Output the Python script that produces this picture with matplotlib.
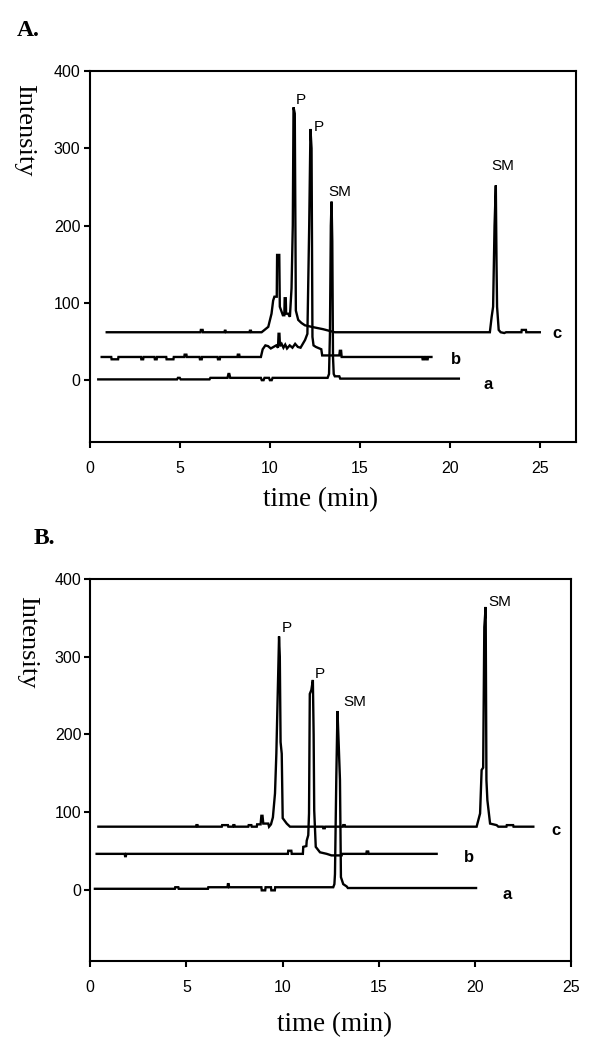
import matplotlib
matplotlib.use("Agg")
import matplotlib.pyplot as plt

# ---------------- data (time in min, intensity) ----------------
# Panel A
trace_A_a = [(0.48, 1), (4.85, 1), (4.9, 3), (5.0, 3), (5.05, 1), (6.65, 1), (6.7, 3),
             (7.65, 3), (7.7, 8), (7.75, 8), (7.8, 3), (9.5, 3), (9.55, 0), (9.65, 0),
             (9.7, 3), (9.95, 3), (10.0, 0), (10.1, 0), (10.15, 3), (13.2, 3), (13.28, 8),
             (13.33, 60), (13.38, 200), (13.42, 231), (13.46, 180), (13.5, 30), (13.54, 8),
             (13.6, 5), (13.85, 5), (13.9, 2), (20.48, 2)]
trace_A_b = [(0.67, 30), (1.2, 30), (1.22, 27), (1.58, 27), (1.6, 30), (2.85, 30), (2.87, 27),
             (2.97, 27), (2.99, 30), (3.6, 30), (3.62, 27), (3.72, 27), (3.74, 30), (4.25, 30),
             (4.27, 27), (4.65, 27), (4.67, 30), (5.25, 30), (5.27, 33), (5.37, 33), (5.39, 30),
             (6.1, 30), (6.12, 27), (6.22, 27), (6.24, 30), (7.1, 30), (7.12, 27), (7.22, 27),
             (7.24, 30), (8.2, 30), (8.22, 33), (8.3, 33), (8.32, 30), (9.5, 30), (9.6, 40),
             (9.75, 45), (9.9, 44), (10.05, 41), (10.2, 43), (10.35, 45), (10.45, 42), (10.48, 60),
             (10.53, 60), (10.56, 44), (10.65, 47), (10.75, 42), (10.85, 46), (10.95, 41),
             (11.1, 45), (11.25, 42), (11.4, 47), (11.55, 43), (11.7, 42), (11.85, 48), (11.95, 52),
             (12.08, 60), (12.18, 200), (12.25, 325), (12.31, 300), (12.36, 56), (12.42, 45),
             (12.55, 43), (12.85, 40), (12.9, 32), (13.85, 32), (13.88, 38), (13.95, 38),
             (13.98, 30), (18.45, 30), (18.47, 27), (18.55, 27), (18.57, 30), (18.65, 30),
             (18.67, 27), (18.75, 27), (18.77, 30), (18.96, 30)]
trace_A_c = [(0.95, 62), (6.15, 62), (6.17, 65), (6.27, 65), (6.29, 62), (7.48, 62), (7.5, 64),
             (7.54, 64), (7.56, 62), (8.87, 62), (8.89, 64), (8.95, 64), (8.97, 62), (9.54, 62),
             (9.7, 65), (9.91, 69), (10.09, 86), (10.18, 103), (10.25, 108), (10.38, 108),
             (10.4, 162), (10.52, 162), (10.55, 95), (10.72, 84), (10.8, 84), (10.82, 106),
             (10.88, 106), (10.9, 86), (11.01, 86), (11.11, 82), (11.2, 119), (11.27, 200),
             (11.31, 353), (11.38, 345), (11.44, 90), (11.57, 78), (11.75, 74), (11.94, 71),
             (12.31, 69), (12.94, 66), (13.6, 62), (22.2, 62), (22.3, 82), (22.38, 95),
             (22.46, 200), (22.53, 252), (22.57, 150), (22.6, 95), (22.69, 65), (22.8, 62),
             (23.0, 61), (23.1, 62), (23.95, 62), (23.97, 65), (24.2, 65), (24.22, 62), (24.97, 62)]

# Panel B
trace_B_a = [(0.24, 1), (4.4, 1), (4.42, 3), (4.58, 3), (4.6, 1), (6.12, 1), (6.14, 3), (7.14, 3),
             (7.16, 7), (7.2, 7), (7.22, 3), (8.9, 3), (8.92, -1), (9.1, -1), (9.12, 3), (9.4, 3),
             (9.42, -1), (9.6, -1), (9.62, 3), (12.64, 3), (12.7, 7), (12.73, 20), (12.8, 145),
             (12.86, 230), (12.92, 190), (12.99, 141), (13.04, 16), (13.16, 7), (13.34, 4),
             (13.4, 2), (20.07, 2)]
trace_B_b = [(0.33, 46), (1.79, 46), (1.81, 43), (1.85, 43), (1.87, 46), (10.28, 46), (10.3, 50),
             (10.46, 50), (10.48, 46), (11.06, 46), (11.08, 55), (11.24, 56), (11.26, 63),
             (11.34, 70), (11.38, 98), (11.42, 252), (11.5, 257), (11.58, 270), (11.62, 200),
             (11.65, 102), (11.73, 55), (11.95, 48), (12.3, 46), (12.55, 44), (13.08, 44),
             (13.1, 46), (14.36, 46), (14.38, 49), (14.46, 49), (14.48, 46), (18.02, 46)]
trace_B_c = [(0.42, 81), (5.5, 81), (5.52, 83), (5.58, 83), (5.6, 81), (6.84, 81), (6.86, 83),
             (7.16, 83), (7.18, 81), (7.42, 81), (7.44, 83), (7.5, 83), (7.52, 81), (8.22, 81),
             (8.24, 83), (8.38, 83), (8.4, 81), (8.66, 81), (8.68, 84), (8.86, 84), (8.9, 95),
             (8.96, 95), (9.0, 85), (9.26, 85), (9.3, 81), (9.4, 84), (9.5, 93), (9.61, 124),
             (9.68, 175), (9.76, 261), (9.82, 326), (9.86, 300), (9.9, 190), (9.96, 175),
             (10.01, 92), (10.22, 85), (10.39, 81), (12.1, 81), (12.12, 79), (12.2, 79),
             (12.22, 81), (13.14, 81), (13.16, 83), (13.24, 83), (13.26, 81), (20.1, 81),
             (20.28, 98), (20.36, 154), (20.44, 157), (20.5, 338), (20.57, 364), (20.61, 141),
             (20.66, 115), (20.8, 85), (21.14, 83), (21.23, 81), (21.65, 81), (21.67, 83),
             (22.0, 83), (22.02, 81), (23.05, 81)]

# annotations: (text, time, intensity)
peak_labels_A = [("P", 11.70, 362), ("P", 12.72, 328), ("SM", 13.88, 243), ("SM", 22.92, 277)]
trace_labels_A = [("c", 25.9, 60), ("b", 20.3, 27), ("a", 22.1, -5)]
peak_labels_B = [("P", 10.22, 337), ("P", 11.95, 278), ("SM", 13.77, 242), ("SM", 21.32, 371)]
trace_labels_B = [("c", 24.23, 76), ("b", 19.7, 41), ("a", 21.68, -6)]

x_ticks_A = [0, 5, 10, 15, 20, 25]
x_ticks_B = [0, 5, 10, 15, 20, 25]
y_ticks = [0, 100, 200, 300, 400]

SANS = "Liberation Sans"
SERIF = "Liberation Serif"

W, H = 606, 1050
fig = plt.figure(figsize=(W / 100, H / 100), dpi=100)


def add_axes_px(left, top, right, bottom):
    return fig.add_axes([left / W, 1 - bottom / H, (right - left) / W, (bottom - top) / H])


axA = add_axes_px(89.6, 71, 576.4, 442.0)
axB = add_axes_px(90.3, 579, 570.8, 961)


def style(ax, xlim, ylim, xticks):
    ax.set_xlim(*xlim)
    ax.set_ylim(*ylim)
    ax.set_xticks(xticks)
    ax.set_yticks(y_ticks)
    for s in ax.spines.values():
        s.set_linewidth(1.5)
        s.set_color("black")
    ax.tick_params(direction="out", length=4.5, width=1.5, labelsize=11.5, pad=2)
    ax.tick_params(axis="x", pad=9)
    for lab in ax.get_xticklabels() + ax.get_yticklabels():
        lab.set_fontfamily(SANS)


for ax, traces, plabels, tlabels, xlim, ylim, xt in [
    (axA, [trace_A_a, trace_A_b, trace_A_c], peak_labels_A, trace_labels_A, (0, 27), (-80, 400), x_ticks_A),
    (axB, [trace_B_a, trace_B_b, trace_B_c], peak_labels_B, trace_labels_B, (0, 25), (-92, 400), x_ticks_B),
]:
    for tr in traces:
        t = [p[0] for p in tr]
        y = [p[1] for p in tr]
        ax.plot(t, y, color="black", lw=1.7, solid_joinstyle="miter")
    for txt, x, y in plabels:
        ax.text(x, y, txt, fontsize=11, family=SANS, ha="center", va="center")
    for txt, x, y in tlabels:
        ax.text(x, y, txt, fontsize=12, family=SANS, fontweight="bold", ha="center", va="center")
    style(ax, xlim, ylim, xt)


def ftext(x, y, s, **kw):
    fig.text(x / W, 1 - y / H, s, ha="center", va="center", **kw)


ftext(28, 30, "A.", fontsize=17, family=SERIF, fontweight="bold")
ftext(44, 539, "B.", fontsize=17, family=SERIF, fontweight="bold")
ftext(24, 130, "Intensity", fontsize=19, family=SERIF, rotation=270)
ftext(27.5, 642, "Intensity", fontsize=19, family=SERIF, rotation=270)
ftext(321, 500, "time (min)", fontsize=19.5, family=SERIF)
ftext(335, 1025, "time (min)", fontsize=19.5, family=SERIF)

fig.savefig("out.png", dpi=100, facecolor="white")
